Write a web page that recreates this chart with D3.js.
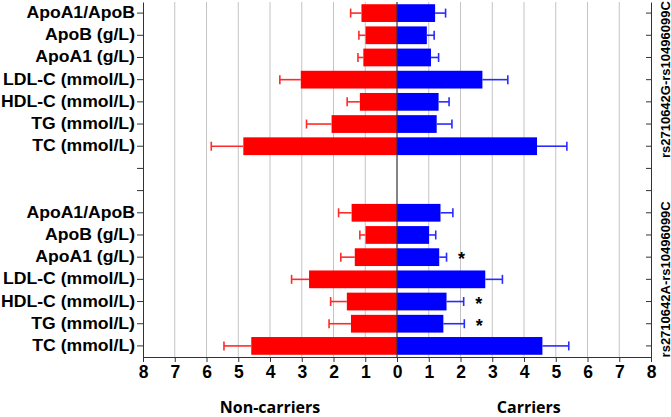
<!DOCTYPE html>
<html><head><meta charset="utf-8">
<script src="https://cdn.jsdelivr.net/npm/d3@7"></script>
<style>
body{margin:0;background:#fff;}
svg{display:block;}
</style>
</head><body>
<svg id="chart" width="671" height="417"></svg>
<script>
const categories = ["ApoA1/ApoB","ApoB (g/L)","ApoA1 (g/L)","LDL-C (mmol/L)","HDL-C (mmol/L)","TG (mmol/L)","TC (mmol/L)"];
const groups = ["rs2710642G-rs10496099C","rs2710642A-rs10496099C"];
// group 1: rs2710642G-rs10496099C
const g1NonCarriers = [1.12, 0.99, 1.06, 3.03, 1.17, 2.06, 4.84];
const g1NonCarriersErr = [0.34, 0.21, 0.17, 0.66, 0.40, 0.79, 1.01];
const g1Carriers = [1.20, 0.94, 1.07, 2.69, 1.31, 1.25, 4.41];
const g1CarriersErr = [0.33, 0.23, 0.24, 0.80, 0.33, 0.48, 0.94];
// group 2: rs2710642A-rs10496099C
const g2NonCarriers = [1.43, 0.99, 1.33, 2.77, 1.58, 1.45, 4.59];
const g2NonCarriersErr = [0.41, 0.18, 0.44, 0.55, 0.51, 0.69, 0.86];
const g2Carriers = [1.37, 1.01, 1.33, 2.78, 1.56, 1.46, 4.58];
const g2CarriersErr = [0.39, 0.21, 0.23, 0.54, 0.54, 0.66, 0.83];
const g2Significant = ["ApoA1 (g/L)","HDL-C (mmol/L)","TG (mmol/L)"];
const xTicks = [-8,-7,-6,-5,-4,-3,-2,-1,0,1,2,3,4,5,6,7,8];
const sideLabels = ["Non-carriers","Carriers"];

const svg = d3.select("#chart");
const L = 143, R = 651, T = 2, B = 357;

const rows = [];
categories.forEach((c,i)=>rows.push({key:"0|"+c, cat:c, g:0, non:g1NonCarriers[i], nonE:g1NonCarriersErr[i], car:g1Carriers[i], carE:g1CarriersErr[i], sig:false}));
const blanks = ["blank|1","blank|2"];
categories.forEach((c,i)=>rows.push({key:"1|"+c, cat:c, g:1, non:g2NonCarriers[i], nonE:g2NonCarriersErr[i], car:g2Carriers[i], carE:g2CarriersErr[i], sig:g2Significant.includes(c)}));
const domain = rows.slice(0,7).map(d=>d.key).concat(blanks).concat(rows.slice(7).map(d=>d.key));

const x = d3.scaleLinear().domain([-8,8]).range([L,R]);
const y = d3.scaleBand().domain(domain).range([T,B]).paddingInner(0.2).paddingOuter(0.1);

// grid
svg.append("g").selectAll("line").data(xTicks.filter(t=>t!==0 && Math.abs(t)!==8)).join("line")
  .attr("x1",d=>x(d)).attr("x2",d=>x(d)).attr("y1",T).attr("y2",B)
  .attr("stroke","#c4c4c4").attr("stroke-width",1);

// bars
const bars = svg.append("g");
bars.selectAll("rect.non").data(rows).join("rect").attr("class","non")
  .attr("x",d=>x(-d.non)).attr("width",d=>x(0)-x(-d.non))
  .attr("y",d=>y(d.key)).attr("height",y.bandwidth()).attr("fill","#ff0000");
bars.selectAll("rect.car").data(rows).join("rect").attr("class","car")
  .attr("x",x(0)).attr("width",d=>x(d.car)-x(0))
  .attr("y",d=>y(d.key)).attr("height",y.bandwidth()).attr("fill","#0000ff");

// error bars
const cap = 4.5;
const err = svg.append("g").attr("stroke-width",1.6);
rows.forEach(d=>{
  const cy = y(d.key)+y.bandwidth()/2;
  err.append("line").attr("x1",x(-d.non)).attr("x2",x(-d.non-d.nonE)).attr("y1",cy).attr("y2",cy).attr("stroke","#ff2a2a");
  err.append("line").attr("x1",x(-d.non-d.nonE)).attr("x2",x(-d.non-d.nonE)).attr("y1",cy-cap).attr("y2",cy+cap).attr("stroke","#ff2a2a");
  err.append("line").attr("x1",x(d.car)).attr("x2",x(d.car+d.carE)).attr("y1",cy).attr("y2",cy).attr("stroke","#2a2aff");
  err.append("line").attr("x1",x(d.car+d.carE)).attr("x2",x(d.car+d.carE)).attr("y1",cy-cap).attr("y2",cy+cap).attr("stroke","#2a2aff");
});

// significance stars
svg.append("g").selectAll("text").data(rows.filter(d=>d.sig)).join("text")
  .attr("x",d=>x(d.car+d.carE)+15).attr("y",d=>y(d.key)+y.bandwidth()/2+8)
  .attr("text-anchor","middle").attr("font-family","Liberation Sans, Arial, sans-serif")
  .attr("font-weight","bold").attr("font-size",18).attr("fill","#000").text("*");

// zero line
svg.append("line").attr("x1",x(0)).attr("x2",x(0)).attr("y1",T).attr("y2",B)
  .attr("stroke","#333").attr("stroke-width",1.2);

// left axis
const yAxis = d3.axisLeft(y).tickSizeInner(6).tickSizeOuter(0).tickPadding(2)
  .tickFormat(k=>k.startsWith("blank")?"":k.split("|")[1]);
const ga = svg.append("g").attr("transform",`translate(${L},0)`).call(yAxis);
ga.selectAll("text").attr("x",0).attr("transform","translate(-8,0) scale(1.13,1)")
  .attr("font-family","Liberation Sans, Arial, sans-serif").attr("font-weight","bold")
  .attr("font-size",15.6).attr("fill","#000");
ga.selectAll("line,path").attr("stroke","#333");

// right axis (ticks inward)
const yAxisR = d3.axisRight(y).tickSizeInner(-5).tickSizeOuter(0).tickFormat("");
const gr = svg.append("g").attr("transform",`translate(${R},0)`).call(yAxisR);
gr.selectAll("line,path").attr("stroke","#333");

// bottom axis
const xAxis = d3.axisBottom(x).tickValues(xTicks).tickSizeInner(5).tickSizeOuter(0).tickPadding(4)
  .tickFormat(d=>Math.abs(d));
const gx = svg.append("g").attr("transform",`translate(0,${B})`).call(xAxis);
gx.selectAll("text").attr("font-family","Liberation Sans, Arial, sans-serif").attr("font-weight","bold")
  .attr("font-size",17.5).attr("fill","#000");
gx.selectAll("line,path").attr("stroke","#333");

// group labels on right
groups.forEach((g,i)=>{
  const keys = domain.filter(k=>k.startsWith(i+"|"));
  const cy = (y(keys[0]) + y(keys[keys.length-1]) + y.bandwidth())/2;
  svg.append("text").attr("transform",`translate(665,${cy}) rotate(-90)`)
    .attr("text-anchor","middle").attr("dominant-baseline","central")
    .attr("font-family","Liberation Sans, Arial, sans-serif").attr("font-weight","bold")
    .attr("font-size",13).attr("fill","#000").text(g);
});

// side labels
svg.append("text").attr("x",x(-4)).attr("y",413).attr("text-anchor","middle")
  .attr("font-family","Open Sans, sans-serif").attr("font-weight","bold").attr("font-size",16)
  .attr("fill","#000").text(sideLabels[0]);
svg.append("text").attr("x",x(4.15)).attr("y",413).attr("text-anchor","middle")
  .attr("font-family","Open Sans, sans-serif").attr("font-weight","bold").attr("font-size",16)
  .attr("fill","#000").text(sideLabels[1]);
</script>
</body></html>
